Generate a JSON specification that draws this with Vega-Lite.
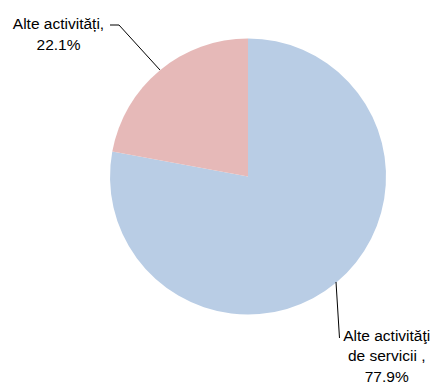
{
  "$schema": "https://vega.github.io/schema/vega-lite/v6.json",
  "width": 432,
  "height": 385,
  "padding": 0,
  "autosize": {"type": "none"},
  "background": "white",
  "config": {"view": {"stroke": null}},
  "datasets": {
    "shares": [
      {"category": "Alte activităţi de servicii", "share": 77.9, "rank": 1},
      {"category": "Alte activități", "share": 22.1, "rank": 2}
    ],
    "leaders": [
      {"line": "a", "seq": 1, "u": -1.0, "v": 1.0978},
      {"line": "a", "seq": 2, "u": -0.9348, "v": 1.0978},
      {"line": "a", "seq": 3, "u": -0.6377, "v": 0.7717},
      {"line": "b", "seq": 1, "u": 0.6377, "v": -0.7645},
      {"line": "b", "seq": 2, "u": 0.663, "v": -1.1703}
    ],
    "labels": [
      {"label": "Alte activități,\n22.1%", "u": -1.3732, "v": 1.0688},
      {"label": "Alte activităţi\nde servicii ,\n77.9%", "u": 1.005, "v": -1.192}
    ]
  },
  "layer": [
    {
      "data": {"name": "shares"},
      "mark": {"type": "arc", "outerRadius": 138, "strokeWidth": 0},
      "encoding": {
        "theta": {"field": "share", "type": "quantitative", "stack": true},
        "order": {"field": "rank", "type": "quantitative"},
        "color": {
          "field": "category",
          "type": "nominal",
          "scale": {"domain": ["Alte activităţi de servicii", "Alte activități"], "range": ["#b9cde5", "#e6b9b8"]},
          "legend": null
        },
        "x": {"datum": 0, "type": "quantitative", "scale": {"domain": [-1.7971, 1.3333], "nice": false, "zero": false}, "axis": null},
        "y": {"datum": 0, "type": "quantitative", "scale": {"domain": [-1.5109, 1.279], "nice": false, "zero": false}, "axis": null}
      }
    },
    {
      "data": {"name": "leaders"},
      "mark": {"type": "line", "color": "black", "strokeWidth": 1},
      "encoding": {
        "x": {"field": "u", "type": "quantitative", "scale": {"domain": [-1.7971, 1.3333], "nice": false, "zero": false}, "axis": null},
        "y": {"field": "v", "type": "quantitative", "scale": {"domain": [-1.5109, 1.279], "nice": false, "zero": false}, "axis": null},
        "detail": {"field": "line", "type": "nominal"},
        "order": {"field": "seq", "type": "quantitative"}
      }
    },
    {
      "data": {"name": "labels"},
      "mark": {"type": "text", "font": "Liberation Sans", "fontSize": 15.5, "align": "center", "baseline": "alphabetic", "lineBreak": "\n", "lineHeight": 20.5, "color": "black"},
      "encoding": {
        "x": {"field": "u", "type": "quantitative", "scale": {"domain": [-1.7971, 1.3333], "nice": false, "zero": false}, "axis": null},
        "y": {"field": "v", "type": "quantitative", "scale": {"domain": [-1.5109, 1.279], "nice": false, "zero": false}, "axis": null},
        "text": {"field": "label"}
      }
    }
  ]
}
